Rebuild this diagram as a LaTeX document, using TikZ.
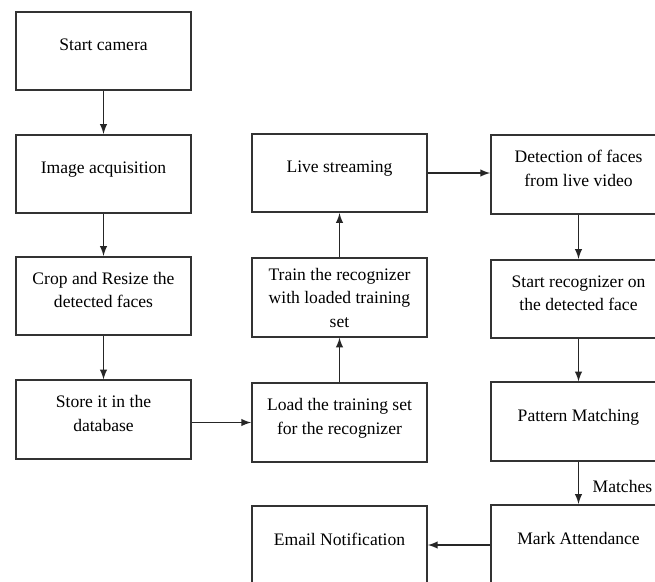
\documentclass[tikz,border=0pt]{standalone}
\usepackage{fontspec}
\setmainfont{Liberation Serif}
\usepackage{tikz}
\usetikzlibrary{arrows, calc}
\tikzset{
    my-box/.style={
      draw=black!80, line width=1pt, rectangle, align=center,
      minimum width=3.5cm, minimum height=1.57cm, inner sep=2pt,
      text depth=0.24cm, font=\fontsize{10}{13.4}\selectfont
    },
    my-box-tall/.style={
      my-box, text depth=0pt
    },
    my-arrow/.style={
      draw=black!85, line width=0.9pt, -latex
    },
}

\begin{document}
\begin{tikzpicture}

        % FRAME
        \clip (0,0) rectangle (13.1,-11.62);
        \fill[white] (0,0) rectangle (13.1,-11.62);

        % FIRST COLUMN
        \node[my-box]      (START)   at (2.07,-1.02)                 {Start camera};
        \node[my-box]      (IMAGE)   at ($(START) + (0, -2.46)$)     {Image acquisition};
        \node[my-box]      (CROP)    at ($(IMAGE) + (0, -2.44)$)     {Crop and Resize the\\detected faces};
        \node[my-box]      (STORE)   at ($(CROP)  + (0, -2.47)$)     {Store it in the\\database};

        % SECOND COLUMN
        \node[my-box]      (LOAD)    at ($(STORE) + (4.72, -0.06)$)  {Load the training set\\for the recognizer};
        \node[my-box-tall] (TRAIN)   at ($(LOAD)  + (0, 2.5)$)       {Train the recognizer\\with loaded training\\set};
        \node[my-box]      (LIVE)    at ($(TRAIN) + (0, 2.49)$)      {Live streaming};
        \node[my-box]      (EMAIL)   at ($(LOAD)  + (0, -2.45)$)     {Email Notification};

        % THIRD COLUMN
        \node[my-box]      (DETECT)  at ($(LIVE)    + (4.78, -0.03)$) {Detection of faces\\from live video};
        \node[my-box]      (RECOG)   at ($(DETECT)  + (0, -2.49)$)    {Start recognizer on\\the detected face};
        \node[my-box]      (PATTERN) at ($(RECOG)   + (0, -2.45)$)    {Pattern Matching};
        \node[my-box]      (MARK)    at ($(PATTERN) + (0, -2.45)$)    {Mark Attendance};

        % FIRST COLUMN CONNECTIONS
        \draw[my-arrow] (START) -- (IMAGE);
        \draw[my-arrow] (IMAGE) -- (CROP);
        \draw[my-arrow] (CROP)  -- (STORE);
        \draw[my-arrow] (STORE.east |- LOAD) -- (LOAD);

        % SECOND COLUMN CONNECTIONS
        \draw[my-arrow] (LOAD)  -- (TRAIN);
        \draw[my-arrow] (TRAIN) -- (LIVE);
        \draw[my-arrow] (LIVE)  -- (LIVE -| DETECT.west);

        % THIRD COLUMN CONNECTIONS
        \draw[my-arrow] (DETECT)  -- (RECOG);
        \draw[my-arrow] (RECOG)   -- (PATTERN);
        \draw[my-arrow] (PATTERN) -- node[pos=.6, right, xshift=.15cm, font=\fontsize{10}{12}\selectfont] (MATCHES) {Matches} (MARK);
        \draw[my-arrow] (MARK.west |- EMAIL) -- (EMAIL);

    \end{tikzpicture}
\end{document}
